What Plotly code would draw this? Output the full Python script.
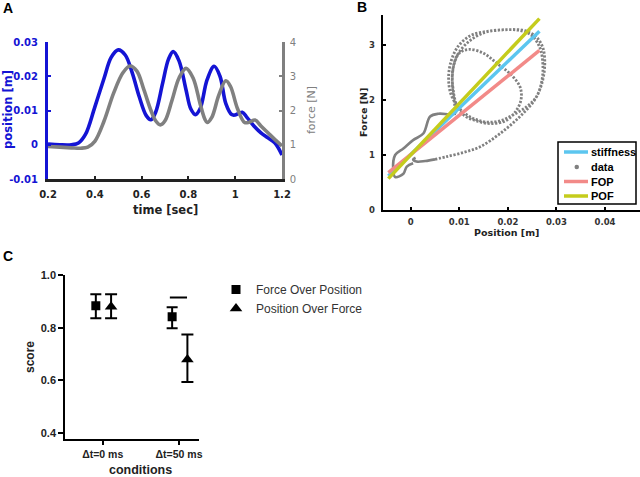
import plotly.graph_objects as go

# ---------------- Panel A data ----------------
t_pos = [0.20, 0.25, 0.30, 0.33, 0.36, 0.40, 0.44, 0.47, 0.50, 0.53, 0.56, 0.59, 0.62, 0.64, 0.66,
         0.69, 0.715, 0.735, 0.76, 0.79, 0.81, 0.83, 0.85, 0.88, 0.91, 0.935, 0.96, 0.985, 1.00,
         1.03, 1.05, 1.08, 1.11, 1.14, 1.17, 1.20]
position = [0.0002, 0.0000, 0.0000, 0.0005, 0.0030, 0.0110, 0.0195, 0.0255, 0.0277, 0.0262, 0.0210,
            0.0140, 0.0085, 0.0073, 0.0095, 0.0180, 0.0250, 0.0272, 0.0245, 0.0160, 0.0105, 0.0088,
            0.0105, 0.0190, 0.0229, 0.0200, 0.0120, 0.0088, 0.0087, 0.0095, 0.0080, 0.0055, 0.0035,
            0.0020, 0.0005, -0.0030]
t_force = [0.20, 0.25, 0.30, 0.34, 0.37, 0.40, 0.44, 0.48, 0.52, 0.55, 0.58, 0.61, 0.64, 0.66, 0.68,
           0.70, 0.73, 0.76, 0.79, 0.82, 0.85, 0.87, 0.88, 0.90, 0.93, 0.96, 0.98, 1.01, 1.04, 1.06,
           1.085, 1.11, 1.14, 1.17, 1.20]
force = [0.95, 0.93, 0.91, 0.90, 0.93, 1.10, 1.70, 2.50, 3.10, 3.30, 3.15, 2.60, 2.00, 1.70, 1.58,
         1.70, 2.30, 2.95, 3.23, 2.95, 2.20, 1.75, 1.65, 1.80, 2.45, 2.87, 2.70, 2.05, 1.65, 1.66,
         1.72, 1.55, 1.35, 1.15, 0.97]

# ---------------- Panel B data ----------------
data_pos = [0.0010, 0.0005, 0.0012, 0.0030,
            0.0050, 0.0074, 0.0110, 0.0143, 0.0184, 0.0225, 0.0255, 0.0270, 0.0276, 0.0272, 0.0258,
            0.0235, 0.0200, 0.0160, 0.0125, 0.0098, 0.0083, 0.0078, 0.0083, 0.0100, 0.0125, 0.0155,
            0.0184, 0.0211, 0.0239, 0.0259, 0.0270, 0.0272, 0.0266, 0.0248, 0.0220, 0.0185, 0.0150,
            0.0118, 0.0095, 0.0086, 0.0088, 0.0095, 0.0110, 0.0135, 0.0165, 0.0195, 0.0215, 0.0227,
            0.0225, 0.0204, 0.0177, 0.0150, 0.0120, 0.0100, 0.0088, 0.0086, 0.0090, 0.0093,
            0.0080, 0.0057, 0.0040, 0.0026, 0.0005, -0.0015, -0.0032, -0.0036, -0.0032, -0.0015,
            -0.0008, 0.0005]
data_force = [0.95, 0.92, 0.88, 0.89,
              0.92, 0.97, 1.05, 1.15, 1.39, 1.70, 2.00, 2.30, 2.65, 2.95, 3.15,
              3.26, 3.28, 3.25, 3.18, 2.98, 2.70, 2.40, 2.10, 1.85, 1.68, 1.60,
              1.62, 1.73, 1.88, 2.06, 2.35, 2.65, 2.95, 3.18, 3.27, 3.27, 3.22,
              3.05, 2.80, 2.50, 2.15, 1.90, 1.72, 1.62, 1.57, 1.62, 1.78, 2.00,
              2.24, 2.48, 2.67, 2.85, 2.92, 2.85, 2.60, 2.25, 1.95, 1.75,
              1.74, 1.75, 1.70, 1.39, 1.27, 1.12, 1.00, 0.73, 0.60, 0.66,
              0.79, 0.85]
fit_pos = [-0.0046, 0.0265]
stiffness_fit = [0.62, 3.25]
fop_fit = [0.68, 2.90]
pof_fit = [0.57, 3.48]
legend_b_names = ["stiffness", "data", "FOP", "POF"]

# ---------------- Panel C data ----------------
conditions = ["Δt=0 ms", "Δt=50 ms"]
fop_score = [0.883, 0.842]
fop_upper = [0.927, 0.878]
fop_lower = [0.836, 0.798]
pof_score = [0.880, 0.680]
pof_upper = [0.927, 0.774]
pof_lower = [0.836, 0.594]
sig_level = 0.915

W, H = 640, 477
def px(x):
    return x / W
def py(y):
    return 1 - y / H

BLUE = "#1414d4"
GRAY = "#808080"
C_STIFF = "#5cc6ef"
C_FOP = "#f28a88"
C_POF = "#c5cc1c"
DV = "DejaVu Sans"
AR = "Liberation Sans"

fig = go.Figure()

# Panel A
fig.add_trace(go.Scatter(x=t_pos, y=position, mode="lines", xaxis="x", yaxis="y",
                         line=dict(color=BLUE, width=3.6, shape="spline", smoothing=1.0),
                         showlegend=False))
fig.add_trace(go.Scatter(x=t_force, y=force, mode="lines", xaxis="x", yaxis="y2",
                         line=dict(color=GRAY, width=3.6, shape="spline", smoothing=1.0),
                         showlegend=False))

# Panel B
i1, i2 = 4, 58
fig.add_trace(go.Scatter(x=data_pos[:i1 + 1], y=data_force[:i1 + 1], mode="lines", xaxis="x2", yaxis="y3",
                         line=dict(color=GRAY, width=2.6, shape="spline"), showlegend=False))
fig.add_trace(go.Scatter(x=data_pos[i1:i2], y=data_force[i1:i2], mode="lines", xaxis="x2", yaxis="y3",
                         line=dict(color=GRAY, width=2.8, shape="spline", dash="2.2px,1.6px"),
                         showlegend=False))
fig.add_trace(go.Scatter(x=data_pos[i2 - 1:], y=data_force[i2 - 1:], mode="lines", xaxis="x2", yaxis="y3",
                         line=dict(color=GRAY, width=2.6, shape="spline"), showlegend=False))
fig.add_trace(go.Scatter(x=fit_pos, y=stiffness_fit, mode="lines", xaxis="x2", yaxis="y3",
                         name="stiffness", line=dict(color=C_STIFF, width=3.5), showlegend=False))
fig.add_trace(go.Scatter(x=fit_pos, y=fop_fit, mode="lines", xaxis="x2", yaxis="y3",
                         name="FOP", line=dict(color=C_FOP, width=3.5), showlegend=False))
fig.add_trace(go.Scatter(x=fit_pos, y=pof_fit, mode="lines", xaxis="x2", yaxis="y3",
                         name="POF", line=dict(color=C_POF, width=3.5), showlegend=False))

# Panel C
x_fop = [i - 0.09 for i in range(len(conditions))]
x_pof = [i + 0.11 for i in range(len(conditions))]
fig.add_trace(go.Scatter(
    x=x_fop, y=fop_score, mode="markers", xaxis="x3", yaxis="y4", name="Force Over Position",
    marker=dict(symbol="square", size=9, color="black"),
    error_y=dict(type="data", symmetric=False,
                 array=[u - m for u, m in zip(fop_upper, fop_score)],
                 arrayminus=[m - l for m, l in zip(fop_score, fop_lower)],
                 color="black", thickness=2, width=5.5)))
fig.add_trace(go.Scatter(
    x=x_pof, y=pof_score, mode="markers", xaxis="x3", yaxis="y4", name="Position Over Force",
    marker=dict(symbol="triangle-up", size=11, color="black"),
    error_y=dict(type="data", symmetric=False,
                 array=[u - m for u, m in zip(pof_upper, pof_score)],
                 arrayminus=[m - l for m, l in zip(pof_score, pof_lower)],
                 color="black", thickness=2, width=6)))
fig.add_trace(go.Scatter(x=[1 - 0.12, 1 + 0.105], y=[sig_level, sig_level], mode="lines",
                         xaxis="x3", yaxis="y4", line=dict(color="black", width=2),
                         showlegend=False))

tickA = dict(family=DV, size=10, weight="bold", color="#222222")
layout = dict(
    width=W, height=H, autosize=False,
    margin=dict(l=0, r=0, t=0, b=0, autoexpand=False),
    paper_bgcolor="white", plot_bgcolor="white",
    # Panel A
    xaxis=dict(domain=[px(48), px(282)], range=[0.2, 1.2], anchor="y",
               tickvals=[0.2, 0.4, 0.6, 0.8, 1.0, 1.2], ticktext=["0.2", "0.4", "0.6", "0.8", "1", "1.2"],
               ticks="inside", ticklen=3, tickwidth=2, tickcolor="#222222",
               showline=True, linecolor="#222222", linewidth=2.5, showgrid=False, zeroline=False,
               tickfont=tickA, ticklabelstandoff=4),
    yaxis=dict(domain=[py(179), py(42)], range=[-0.01, 0.03], anchor="x",
               tickvals=[-0.01, 0, 0.01, 0.02, 0.03], ticktext=["-0.01", "0", "0.01", "0.02", "0.03"],
               ticks="inside", ticklen=3, tickwidth=2, tickcolor=BLUE,
               showline=True, linecolor=BLUE, linewidth=3, showgrid=False, zeroline=False,
               tickfont=dict(family=DV, size=10, weight="bold", color=BLUE), ticklabelstandoff=5),
    yaxis2=dict(domain=[py(179), py(42)], range=[0, 4], overlaying="y", side="right", anchor="x",
                tickvals=[0, 1, 2, 3, 4], ticks="inside", ticklen=3, tickwidth=2, tickcolor=GRAY,
                showline=True, linecolor=GRAY, linewidth=2.5, showgrid=False, zeroline=False,
                tickfont=dict(family=DV, size=10, color=GRAY), ticklabelstandoff=3),
    # Panel B
    xaxis2=dict(domain=[px(383.3), 1.0], range=[-0.00564, 0.0472], anchor="y3",
                tickvals=[0, 0.01, 0.02, 0.03, 0.04], ticktext=["0", "0.01", "0.02", "0.03", "0.04"],
                ticks="inside", ticklen=3, tickwidth=1.5, tickcolor="black",
                showline=True, linecolor="black", linewidth=1.5, showgrid=False, zeroline=False,
                tickfont=dict(family=DV, size=8.5, weight="bold", color="#333333"), ticklabelstandoff=3),
    yaxis3=dict(domain=[py(210), py(15)], range=[0, 3.545], anchor="x2",
                tickvals=[0, 1, 2, 3], ticks="inside", ticklen=3, tickwidth=1.5, tickcolor="black",
                showline=True, linecolor="black", linewidth=1.5, showgrid=False, zeroline=False,
                tickfont=dict(family=DV, size=8.5, weight="bold", color="#333333"), ticklabelstandoff=5),
    # Panel C
    xaxis3=dict(domain=[px(65), px(199)], range=[-0.494, 1.262], anchor="y4",
                tickvals=[0, 1], ticktext=conditions,
                ticks="outside", ticklen=4, tickwidth=1.5, tickcolor="black",
                showline=True, linecolor="black", linewidth=1.5, showgrid=False, zeroline=False,
                tickfont=dict(family=AR, size=10.5, weight="bold", color="#222222")),
    yaxis4=dict(domain=[py(439.3), py(275)], range=[0.377, 1.0], anchor="x3",
                tickvals=[0.4, 0.6, 0.8, 1.0], ticktext=["0.4", "0.6", "0.8", "1.0"],
                ticks="outside", ticklen=5, tickwidth=1.5, tickcolor="black",
                showline=True, linecolor="black", linewidth=1.5, showgrid=False, zeroline=False,
                tickfont=dict(family=AR, size=11, weight="bold", color="#222222")),
    showlegend=True,
    legend=dict(x=px(216), y=py(275), xanchor="left", yanchor="top",
                borderwidth=0, bgcolor="rgba(0,0,0,0)",
                font=dict(family=AR, size=12, color="#333333"),
                itemwidth=30, tracegroupgap=0),
)
fig.update_layout(**layout)

def ann(text, x, y, size, color="black", family=DV, weight="bold", angle=0, xanchor="center"):
    fig.add_annotation(text=text, x=px(x), y=py(y), xref="paper", yref="paper",
                       showarrow=False, textangle=angle, xanchor=xanchor, yanchor="middle",
                       font=dict(family=family, size=size, color=color, weight=weight))

ann("A", 1, 8, 14, family=AR, xanchor="left")
ann("B", 355, 7, 14, family=AR, xanchor="left")
ann("C", 1, 256, 14, family=AR, xanchor="left")
ann("position [m]", 8, 110, 11.5, color=BLUE, angle=-90)
ann("force [N]", 311, 110, 11, color=GRAY, weight="normal", angle=-90)
ann("time [sec]", 165, 210, 11.5, color="#222222")
ann("Force [N]", 363, 113, 9.5, color="#222222", angle=-90)
ann("Position [m]", 506, 233, 9.5, color="#222222")
ann("score", 30, 357, 12, color="#222222", family=AR, angle=-90)
ann("conditions", 140, 470, 12.5, color="#222222", family=AR)

# Panel B legend box (drawn manually to match the compact boxed legend)
fig.add_shape(type="rect", xref="paper", yref="paper", x0=px(558), x1=px(636), y0=py(204), y1=py(142),
              line=dict(color="black", width=1.5), fillcolor="white", layer="above")
legend_rows = [152, 167, 181.5, 196]
legend_colors = [C_STIFF, None, C_FOP, C_POF]
for name, yrow, col in zip(legend_b_names, legend_rows, legend_colors):
    if col is None:
        fig.add_shape(type="circle", xref="paper", yref="paper",
                      x0=px(574.5), x1=px(579), y0=py(yrow + 2.25), y1=py(yrow - 2.25),
                      line=dict(width=0), fillcolor=GRAY, layer="above")
    else:
        fig.add_shape(type="line", xref="paper", yref="paper", x0=px(564), x1=px(588),
                      y0=py(yrow), y1=py(yrow), line=dict(color=col, width=3.5), layer="above")
    fig.add_annotation(text=name, x=px(589), y=py(yrow), xref="paper", yref="paper",
                       showarrow=False, xanchor="left", yanchor="middle",
                       font=dict(family=AR, size=11, color="black", weight="bold"))

fig.write_html("out.html", config={"displayModeBar": False},
               post_script="document.body.style.margin='0';document.body.style.overflow='hidden';")
